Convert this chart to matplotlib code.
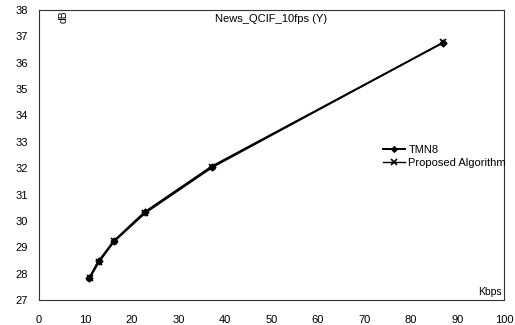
import matplotlib
matplotlib.use("Agg")
import matplotlib.pyplot as plt

plt.rcParams['font.family'] = ['Liberation Sans', 'DejaVu Sans']

title = "News_QCIF_10fps (Y)"
tmn8_kbps = [10.8, 12.8, 16.1, 22.7, 37.1, 86.8]
tmn8_db = [27.84, 28.47, 29.24, 30.33, 32.06, 36.75]
prop_kbps = [10.9, 12.9, 16.2, 22.9, 37.3, 86.9]
prop_db = [27.82, 28.43, 29.22, 30.30, 32.03, 36.77]
xticks = list(range(0, 101, 10))
yticks = list(range(27, 39))

fig = plt.figure(figsize=(5.15, 3.25), dpi=100)
ax = fig.add_axes([39/515, 1-300/325, (504-39)/515, (300-10)/325])

ax.plot(tmn8_kbps, tmn8_db, color='black', lw=1.4, marker='D', ms=3.5, label='TMN8')
ax.plot(prop_kbps, prop_db, color='black', lw=1.0, marker='x', ms=5, mew=1.2,
        label='Proposed Algorithm')

ax.set_xlim(0, 100)
ax.set_ylim(27, 38)
ax.set_xticks(xticks)
ax.set_yticks(yticks)
ax.tick_params(length=0, labelsize=8)
ax.tick_params(axis='x', pad=11)
ax.tick_params(axis='y', pad=8)
for s in ax.spines.values():
    s.set_linewidth(0.8)
    s.set_color('#333333')

ax.text(0.5, 0.985, title, transform=ax.transAxes, ha='center', va='top', fontsize=8)
ax.text(0.052, 1.0, 'dB', transform=ax.transAxes, ha='center', va='top',
        rotation=90, fontsize=7.5)
ax.text(0.995, 0.012, 'Kbps', transform=ax.transAxes, ha='right', va='bottom', fontsize=7.5)

ax.legend(loc='upper left', bbox_to_anchor=(0.73, 0.55), frameon=False, fontsize=8,
          handlelength=2.0, handletextpad=0.3, labelspacing=0.3, borderaxespad=0,
          markerscale=0.8)

fig.savefig('out.png', dpi=100, facecolor='white')
